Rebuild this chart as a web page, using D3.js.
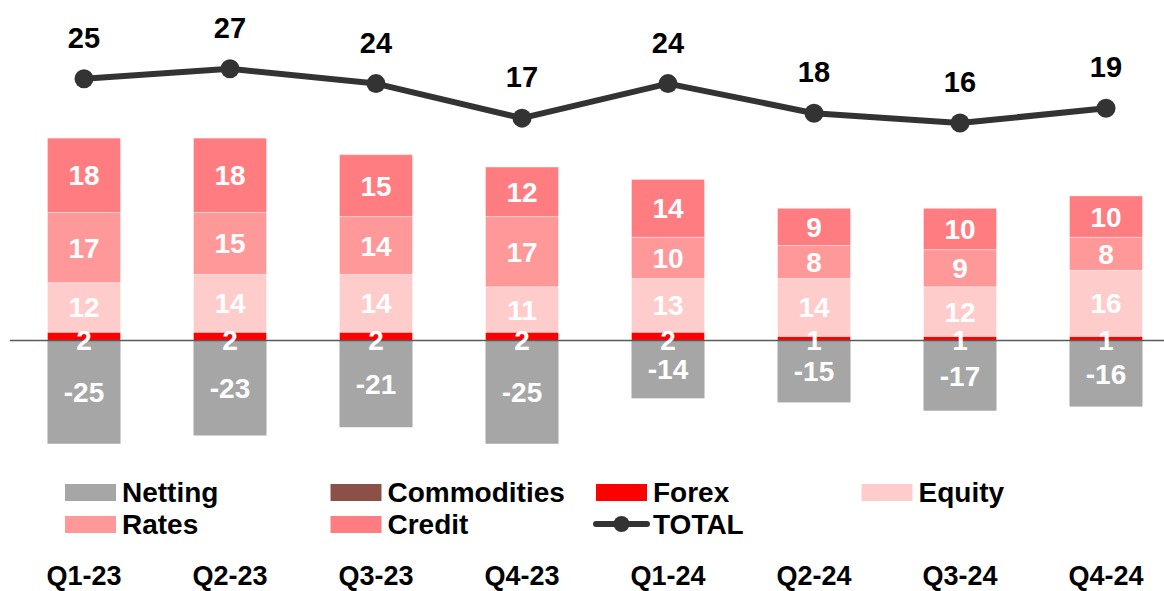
<!DOCTYPE html>
<html><head><meta charset="utf-8">
<script src="https://cdn.jsdelivr.net/npm/d3@7"></script>
<style>body{margin:0;background:#fff}svg{display:block;font-family:"Liberation Sans",Arial,sans-serif;font-weight:bold}</style>
</head><body><svg id="c" width="1164" height="591"></svg>
<script>
const categories = ["Q1-23","Q2-23","Q3-23","Q4-23","Q1-24","Q2-24","Q3-24","Q4-24"];
const netting     = [-25,-23,-21,-25,-14,-15,-17,-16];
const commodities = [0,0,0,0,0,0,0,0];
const forex       = [2,2,2,2,2,1,1,1];
const equity      = [12,14,14,11,13,14,12,16];
const rates       = [17,15,14,17,10,8,9,8];
const credit      = [18,18,15,12,14,9,10,10];
const total       = [25,27,24,17,24,18,16,19];

const seriesPos = [
  {name:"Commodities", values:commodities, color:"#8c5047"},
  {name:"Forex", values:forex, color:"#ff0000"},
  {name:"Equity", values:equity, color:"#ffcccc"},
  {name:"Rates", values:rates, color:"#ff9999"},
  {name:"Credit", values:credit, color:"#ff7c80"}
];
const nettingColor = "#a6a6a6";
const totalColor = "#333333";

const svg = d3.select("#c");
const x = d3.scaleBand().domain(categories).range([11,1179]).paddingInner(0.5).paddingOuter(0.25);
const y = d3.scaleLinear().domain([-30,50]).range([340.5+30*4.13, 340.5-50*4.13]);
const yT = d3.scaleLinear().domain([0,30]).range([202,54]);

const g = svg.append("g");
// netting
categories.forEach((c,i)=>{
  const v = netting[i];
  g.append("rect").attr("x",x(c)).attr("width",x.bandwidth())
    .attr("y",y(0)).attr("height",y(v)-y(0)).attr("fill",nettingColor);
});
// positive stack
categories.forEach((c,i)=>{
  let base = 0;
  seriesPos.forEach(s=>{
    const v = s.values[i];
    if(v<=0) return;
    g.append("rect").attr("x",x(c)).attr("width",x.bandwidth())
      .attr("y",y(base+v)).attr("height",y(base)-y(base+v)).attr("fill",s.color)
      .attr("stroke","#ffffff").attr("stroke-opacity",0.35).attr("stroke-width",1);
    base += v;
  });
});
// zero line
svg.append("line").attr("x1",10).attr("x2",1164).attr("y1",y(0)).attr("y2",y(0))
  .attr("stroke","#5a5a5a").attr("stroke-width",1.5);
// labels
categories.forEach((c,i)=>{
  const v = netting[i];
  g.append("text").attr("x",x(c)+x.bandwidth()/2).attr("y",(y(0)+y(v))/2+10)
    .attr("text-anchor","middle").attr("fill","#fff").attr("font-size",28).text(v);
  let base = 0;
  seriesPos.forEach(s=>{
    const val = s.values[i];
    if(val<=0) return;
    const cy = s.name==="Forex" ? y(0)-1 : (y(base)+y(base+val))/2;
    svg.append("text").attr("x",x(c)+x.bandwidth()/2).attr("y",cy+10)
      .attr("text-anchor","middle").attr("fill","#fff").attr("font-size",28).text(val);
    base += val;
  });
});

// total line
const line = d3.line().x((d,i)=>x(categories[i])+x.bandwidth()/2).y(d=>yT(d));
svg.append("path").datum(total).attr("d",line).attr("fill","none")
  .attr("stroke",totalColor).attr("stroke-width",6).attr("stroke-linejoin","round");
svg.selectAll(".dot").data(total).enter().append("circle")
  .attr("cx",(d,i)=>x(categories[i])+x.bandwidth()/2).attr("cy",d=>yT(d)).attr("r",9.5).attr("fill",totalColor);
svg.selectAll(".tl").data(total).enter().append("text")
  .attr("x",(d,i)=>x(categories[i])+x.bandwidth()/2).attr("y",d=>yT(d)-31)
  .attr("text-anchor","middle").attr("font-size",29).attr("fill","#000").text(d=>d);

// x labels
categories.forEach(c=>{
  svg.append("text").attr("x",x(c)+x.bandwidth()/2).attr("y",585).attr("text-anchor","middle")
    .attr("font-size",27).attr("fill","#000").text(c);
});

// legend
const legend = [
  {name:"Netting", color:nettingColor, col:0,row:0},
  {name:"Commodities", color:"#8c5047", col:1,row:0},
  {name:"Forex", color:"#ff0000", col:2,row:0},
  {name:"Equity", color:"#ffcccc", col:3,row:0},
  {name:"Rates", color:"#ff9999", col:0,row:1},
  {name:"Credit", color:"#ff7c80", col:1,row:1},
  {name:"TOTAL", color:totalColor, col:2,row:1, line:true}
];
const lg = svg.append("g");
legend.forEach(l=>{
  const lx = 65 + l.col*265.5, ly = 492 + l.row*32;
  if(l.line){
    lg.append("line").attr("x1",lx).attr("x2",lx+51).attr("y1",ly).attr("y2",ly)
      .attr("stroke",l.color).attr("stroke-width",6).attr("stroke-linecap","round");
    lg.append("circle").attr("cx",lx+25.5).attr("cy",ly).attr("r",8).attr("fill",l.color);
  } else {
    lg.append("rect").attr("x",lx).attr("y",ly-8).attr("width",51).attr("height",17).attr("fill",l.color);
  }
  lg.append("text").attr("x",lx+57).attr("y",ly+10).attr("font-size",28).attr("fill","#000").text(l.name);
});
</script></body></html>
